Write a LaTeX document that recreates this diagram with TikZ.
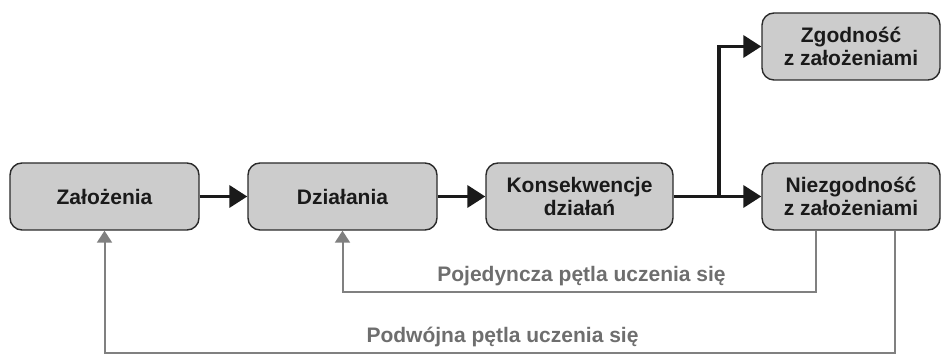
\documentclass[tikz,border=0pt]{standalone}
\usepackage{fontspec}
\setmainfont{Liberation Sans}
\usetikzlibrary{arrows.meta}
\definecolor{boxfill}{HTML}{CCCCCC}
\definecolor{boxdraw}{HTML}{2A2A2A}
\definecolor{darkline}{HTML}{1A1A1A}
\definecolor{loopline}{HTML}{808080}
\definecolor{looptext}{HTML}{6E6E6E}
\tikzset{
  box/.style={draw=boxdraw, fill=boxfill, line width=1.4pt, rounded corners=12pt,
    minimum height=67pt, inner sep=0pt, align=center, text=darkline,
    font=\fontsize{21}{22.5}\selectfont\bfseries},
  flow/.style={draw=darkline, line width=3.6pt, -{Triangle[length=18pt,width=22pt]}},
  loop/.style={draw=loopline, line width=2pt, -{Triangle[length=12pt,width=15pt]}},
  looplabel/.style={anchor=base, text=looptext, inner sep=0pt,
    font=\fontsize{21}{22.5}\selectfont\bfseries}
}
\begin{document}
\begin{tikzpicture}[x=1pt,y=1pt]
\useasboundingbox (0,0) rectangle (941,355);
\node[box, minimum width=189pt] (n1) at (104.5,158.5) {Założenia};
\node[box, minimum width=189pt] (n2) at (342.5,158.5) {Działania};
\node[box, minimum width=187pt] (n3) at (579.5,158.5) {Konsekwencje\\działań};
\node[box, minimum width=178pt] (n4) at (851,158.5) {Niezgodność\\z założeniami};
\node[box, minimum width=178pt] (n5) at (851,308.5) {Zgodność\\z założeniami};
\coordinate (j) at ([xshift=45pt]n3.east);
\draw[flow] (n1) -- (n2);
\draw[flow] (n2) -- (n3);
\draw[flow] (n3) -- (n4);
\draw[flow, line cap=rect] (j) |- (n5);
\draw[loop] ([xshift=-35pt]n4.south) -- ++(0,-61) -| (n2.south);
\draw[loop] ([xshift=44pt]n4.south) -- ++(0,-122) -| (n1.south);
\node[looplabel] (l1) at (581.5,73) {Pojedyncza pętla uczenia się};
\node[looplabel] (l2) at (502.5,12) {Podwójna pętla uczenia się};
\end{tikzpicture}
\end{document}
